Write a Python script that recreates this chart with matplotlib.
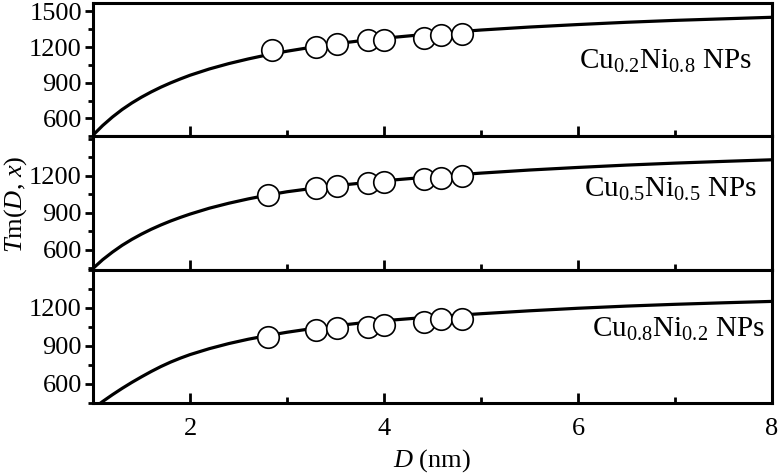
import matplotlib
matplotlib.use("Agg")
import matplotlib.pyplot as plt
from matplotlib.ticker import MultipleLocator, FixedLocator

plt.rcParams['font.family'] = ['Liberation Serif', 'DejaVu Serif']
plt.rcParams['mathtext.fontset'] = 'custom'
plt.rcParams['mathtext.rm'] = 'Liberation Serif'
plt.rcParams['mathtext.it'] = 'Liberation Serif:italic'

# fitted curves
curve_D = [1.0, 1.1, 1.2, 1.3, 1.4, 1.5, 1.6, 1.7, 1.8, 1.9, 2.0, 2.2, 2.4, 2.6, 2.8,
           3.0, 3.25, 3.5, 3.75, 4.0, 4.5, 5.0, 5.5, 6.0, 6.5, 7.0, 7.5, 8.0]
curve_02 = [460, 541, 612, 675, 730, 779, 823, 863, 899, 932, 963, 1016, 1061, 1100, 1135,
            1165, 1198, 1227, 1252, 1274, 1312, 1343, 1368, 1389, 1408, 1424, 1437, 1450]
curve_05 = [450, 521, 582, 637, 685, 728, 767, 802, 834, 863, 890, 938, 978, 1013, 1044,
            1071, 1097, 1120, 1140, 1160, 1193, 1222, 1247, 1268, 1287, 1303, 1317, 1330]
curve_08 = [405, 462, 515, 565, 612, 656, 698, 737, 772, 803, 831, 878, 918, 952, 981,
            1007, 1035, 1058, 1079, 1098, 1128, 1153, 1176, 1196, 1213, 1227, 1239, 1250]

# simulation points
pts_D_02 = [2.85, 3.30, 3.52, 3.83, 4.00, 4.41, 4.59, 4.80]
pts_02 = [1178, 1203, 1226, 1257, 1255, 1280, 1297, 1306]
pts_D = [2.80, 3.30, 3.52, 3.83, 4.00, 4.41, 4.59, 4.80]
pts_05 = [1046, 1098, 1120, 1138, 1146, 1174, 1186, 1198]
pts_08 = [973, 1023, 1039, 1052, 1066, 1084, 1110, 1108]

labels = [r'Cu$_{0.2}$Ni$_{0.8}$ NPs', r'Cu$_{0.5}$Ni$_{0.5}$ NPs', r'Cu$_{0.8}$Ni$_{0.2}$ NPs']
ylims = [(450, 1570), (440, 1520), (450, 1500)]
yticks = [[600, 900, 1200, 1500], [600, 900, 1200], [600, 900, 1200]]
label_y = [0.56, 0.60, 0.55]
label_x = [0.97, 0.977, 0.99]

fig, axes = plt.subplots(3, 1, sharex=True, figsize=(7.79, 4.76), dpi=100)
fig.subplots_adjust(left=0.1194, right=0.991, top=0.9937, bottom=0.1534, hspace=0)

data = [(curve_02, pts_D_02, pts_02), (curve_05, pts_D, pts_05), (curve_08, pts_D, pts_08)]
for i, ax in enumerate(axes):
    cv, pd, pv = data[i]
    ax.plot(curve_D, cv, color='black', lw=2.3, zorder=2)
    ax.plot(pd, pv, 'o', ms=15.5, mfc='white', mec='black', mew=1.2, zorder=3)
    ax.set_xlim(1, 8)
    ax.set_ylim(*ylims[i])
    ax.yaxis.set_major_locator(FixedLocator(yticks[i]))
    ax.yaxis.set_minor_locator(MultipleLocator(150))
    ax.xaxis.set_major_locator(MultipleLocator(2))
    ax.xaxis.set_minor_locator(MultipleLocator(1))
    ax.tick_params(axis='x', which='major', direction='in', length=7, width=2, labelsize=19, pad=11)
    ax.tick_params(axis='x', which='minor', direction='in', length=4, width=2)
    ax.tick_params(axis='y', which='major', direction='out', length=6, width=2, labelsize=19, pad=2)
    ax.tick_params(axis='y', which='minor', direction='out', length=3.5, width=2)
    for s in ax.spines.values():
        s.set_linewidth(2.2)
    ax.text(label_x[i], label_y[i], labels[i], transform=ax.transAxes,
            ha='right', va='center', fontsize=21)

axes[2].set_xlabel(r'$D$ (nm)', fontsize=19, labelpad=5)
fig.text(0.02, 0.57, r'$T$m($D$, $x$)', rotation=90, ha='center', va='center', fontsize=19)

fig.savefig('out.png', dpi=100)
